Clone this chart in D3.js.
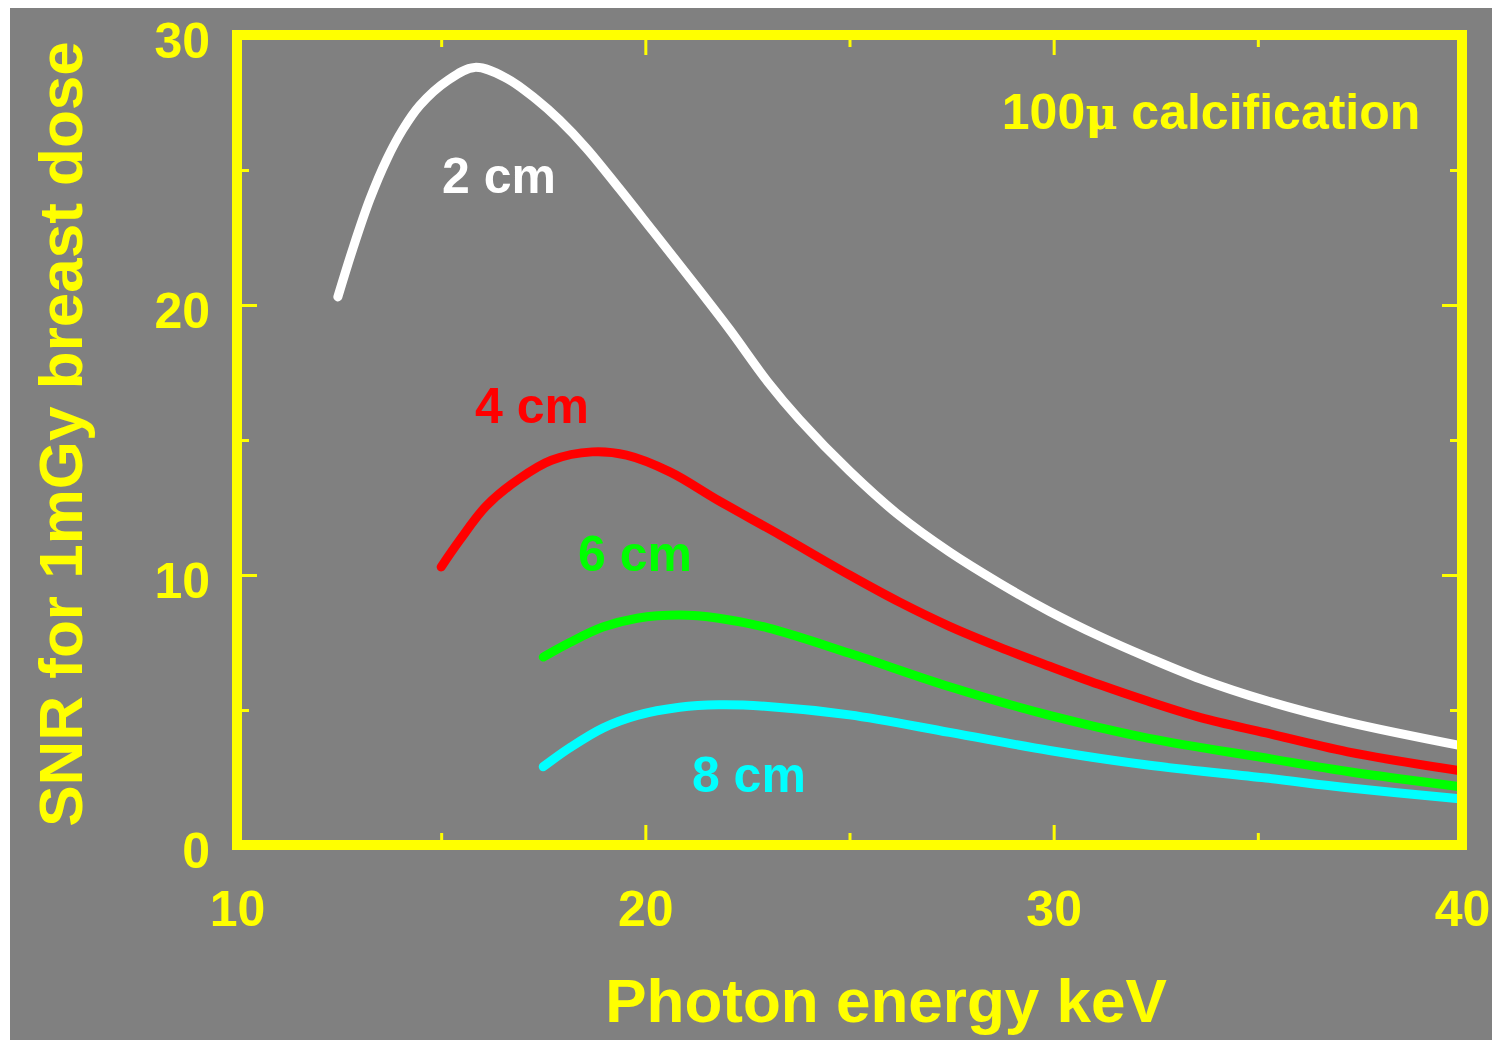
<!DOCTYPE html>
<html>
<head>
<meta charset="utf-8">
<script src="https://d3js.org/d3.v7.min.js"></script>
<style>
  html, body { margin: 0; padding: 0; background: #ffffff; }
  svg { display: block; }
  text { font-family: "Liberation Sans", Arial, Helvetica, sans-serif; font-weight: bold; }
</style>
</head>
<body>
<div id="chart"></div>
<script>
// Curves: photon energy (keV) vs SNR for 1 mGy
const energy2cm = [12.47, 12.84, 13.25, 13.67, 14.06, 14.48, 15.14, 15.82, 16.6, 17.34, 17.9, 18.56, 19.37, 20.18, 21.22, 22.06, 23.0, 23.78, 25.0, 26.22, 27.45, 28.67, 29.9, 31.1, 32.3, 33.6, 35.2, 37.2, 40];
const snr2cm    = [20.3, 22.1, 23.9, 25.4, 26.5, 27.4, 28.3, 28.8, 28.4, 27.6, 26.85, 25.8, 24.3, 22.75, 20.75, 19.1, 17.15, 15.75, 13.85, 12.2, 10.85, 9.7, 8.65, 7.75, 6.95, 6.15, 5.35, 4.55, 3.67];

const energy4cm = [15.0, 15.46, 16.1, 16.9, 17.7, 18.7, 19.54, 20.6, 21.8, 23.3, 25.0, 26.22, 27.45, 28.67, 29.9, 31.1, 32.3, 33.6, 35.2, 37.2, 40];
const snr4cm    = [10.3, 11.3, 12.55, 13.55, 14.25, 14.56, 14.44, 13.82, 12.75, 11.48, 10.0, 9.0, 8.1, 7.33, 6.62, 5.95, 5.33, 4.72, 4.15, 3.45, 2.74];

const energy6cm = [17.5, 18.15, 18.96, 19.8, 20.84, 21.8, 23.0, 25.0, 27.45, 29.9, 32.3, 35.2, 37.2, 40];
const snr6cm    = [6.96, 7.5, 8.07, 8.4, 8.52, 8.4, 8.04, 7.1, 5.86, 4.8, 3.96, 3.22, 2.72, 2.15];

const energy8cm = [17.5, 18.15, 18.96, 19.8, 20.84, 21.8, 23.0, 25.0, 27.45, 29.9, 32.3, 35.2, 37.2, 40];
const snr8cm    = [2.9, 3.6, 4.33, 4.8, 5.1, 5.19, 5.13, 4.82, 4.17, 3.5, 2.96, 2.48, 2.12, 1.7];

const seriesNames = ["2 cm", "4 cm", "6 cm", "8 cm"];
const seriesColors = ["#ffffff", "#ff0000", "#00ff00", "#00ffff"];

// label anchors in data units (energy, snr)
const labelEnergy = [15.02, 15.83, 18.35, 21.14];
const labelSnr = [24.15, 15.63, 10.15, 1.96];

const xTicks = [10, 20, 30, 40];
const xMinorTicks = [15, 25, 35];
const yTicks = [0, 10, 20, 30];
const yMinorTicks = [5, 15, 25];

const WIDTH = 1492, HEIGHT = 1040;
const YELLOW = "#ffff00";

const svg = d3.select("#chart").append("svg")
    .attr("width", WIDTH)
    .attr("height", HEIGHT);

// grey page
svg.append("rect")
    .attr("x", 10).attr("y", 8)
    .attr("width", WIDTH - 10).attr("height", HEIGHT - 8)
    .attr("fill", "#808080");

const x = d3.scaleLinear().domain([10, 40]).range([237, 1462]);
const y = d3.scaleLinear().domain([0, 30]).range([845, 35]);

// ticks on all four sides, pointing inwards
function tickAxis(axis, values, size, transform) {
    const g = svg.append("g")
        .attr("transform", transform)
        .call(axis.tickValues(values).tickSizeInner(-size).tickSizeOuter(0).tickFormat(""));
    g.select(".domain").remove();
    g.selectAll("line").attr("stroke", YELLOW).attr("stroke-width", 3);
    return g;
}

tickAxis(d3.axisBottom(x), xTicks, 20, `translate(0,${y(0)})`);
tickAxis(d3.axisBottom(x), xMinorTicks, 12, `translate(0,${y(0)})`);
tickAxis(d3.axisTop(x), xTicks, 20, `translate(0,${y(30)})`);
tickAxis(d3.axisTop(x), xMinorTicks, 12, `translate(0,${y(30)})`);
tickAxis(d3.axisLeft(y), yTicks, 20, `translate(${x(10)},0)`);
tickAxis(d3.axisLeft(y), yMinorTicks, 12, `translate(${x(10)},0)`);
tickAxis(d3.axisRight(y), yTicks, 20, `translate(${x(40)},0)`);
tickAxis(d3.axisRight(y), yMinorTicks, 12, `translate(${x(40)},0)`);

// tick labels
const xLab = svg.append("g")
    .attr("transform", `translate(0,${y(0)})`)
    .call(d3.axisBottom(x).tickValues(xTicks).tickSize(0).tickFormat(d3.format("d")));
xLab.select(".domain").remove();
xLab.selectAll("text")
    .attr("y", 81).attr("dy", null)
    .attr("fill", YELLOW)
    .style("font-size", "50px");

const yLab = svg.append("g")
    .attr("transform", `translate(${x(10)},0)`)
    .call(d3.axisLeft(y).tickValues(yTicks).tickSize(0).tickFormat(d3.format("d")));
yLab.select(".domain").remove();
yLab.selectAll("text")
    .attr("x", -27).attr("y", 22).attr("dy", null)
    .attr("fill", YELLOW)
    .style("font-size", "50px");

// curves
const allSeries = [
    [energy2cm, snr2cm],
    [energy4cm, snr4cm],
    [energy6cm, snr6cm],
    [energy8cm, snr8cm]
];

const line = d3.line()
    .x(d => x(d[0]))
    .y(d => y(d[1]))
    .curve(d3.curveCatmullRom.alpha(0.5));

allSeries.forEach(([es, ss], i) => {
    svg.append("path")
        .datum(es.map((e, k) => [e, ss[k]]))
        .attr("fill", "none")
        .attr("stroke", seriesColors[i])
        .attr("stroke-width", 9)
        .attr("stroke-linecap", "round")
        .attr("stroke-linejoin", "round")
        .attr("d", line);

    svg.append("text")
        .attr("x", x(labelEnergy[i]))
        .attr("y", y(labelSnr[i]))
        .attr("fill", seriesColors[i])
        .style("font-size", "50px")
        .text(seriesNames[i]);
});

// frame
svg.append("rect")
    .attr("x", x(10)).attr("y", y(30))
    .attr("width", x(40) - x(10)).attr("height", y(0) - y(30))
    .attr("fill", "none")
    .attr("stroke", YELLOW)
    .attr("stroke-width", 10);

// annotation
const note = svg.append("text")
    .attr("x", x(28.73))
    .attr("y", y(26.52))
    .attr("fill", YELLOW)
    .style("font-size", "50px");
note.append("tspan").text("100");
note.append("tspan")
    .style("font-family", "'DejaVu Serif', 'Liberation Serif', serif")
    .style("font-weight", "bold")
    .style("font-size", "44px")
    .text("\u03bc");
note.append("tspan").text(" calcification");

// axis titles
svg.append("text")
    .attr("x", 886).attr("y", 1022)
    .attr("text-anchor", "middle")
    .attr("fill", YELLOW)
    .style("font-size", "62px")
    .text("Photon energy keV");

svg.append("text")
    .attr("transform", "translate(82,434) rotate(-90)")
    .attr("text-anchor", "middle")
    .attr("fill", YELLOW)
    .style("font-size", "62px")
    .text("SNR for 1mGy breast dose");
</script>
</body>
</html>
